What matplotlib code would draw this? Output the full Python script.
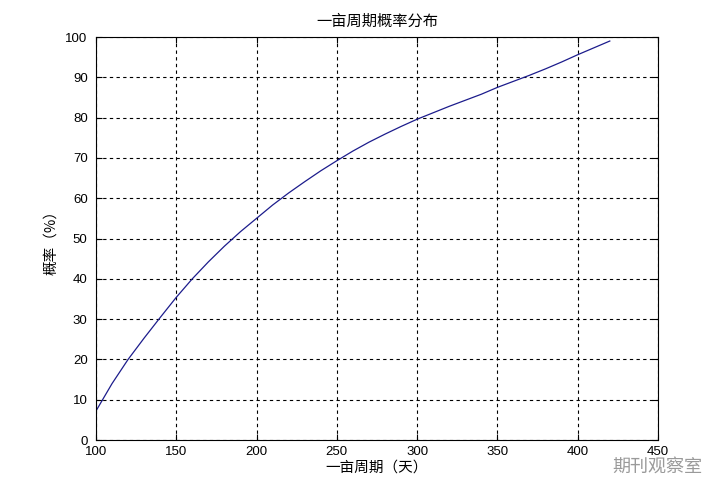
import matplotlib.pyplot as plt
import numpy as np

# curve (days -> probability %)
period_days = [100, 110, 120, 130, 140, 150, 160, 170, 180, 190, 200,
               210, 220, 230, 240, 250, 260, 270, 280, 290, 300,
               310, 320, 330, 340, 350, 360, 370, 380, 390, 400, 410, 420]
probability = [7.2, 14.0, 20.0, 25.3, 30.4, 35.4, 40.0, 44.2, 48.1, 51.7, 55.0,
               58.3, 61.3, 64.1, 66.8, 69.3, 71.7, 73.9, 75.9, 77.8, 79.6,
               81.2, 82.8, 84.3, 85.8, 87.5, 89.0, 90.5, 92.1, 93.8, 95.6, 97.3, 99.0]

x_ticks = [100, 150, 200, 250, 300, 350, 400, 450]
y_ticks = [0, 10, 20, 30, 40, 50, 60, 70, 80, 90, 100]

title_text = '一亩周期概率分布'
x_label = '一亩周期（天）'
y_label = '概率（%）'
watermark = '期刊观察室'

plt.rcParams['font.family'] = ['Liberation Sans', 'Noto Sans CJK SC', 'DejaVu Sans']
cjk = ['Noto Sans CJK SC', 'DejaVu Sans']

fig = plt.figure(figsize=(7.26, 4.94), dpi=100)
ax = fig.add_axes([0.1322, 0.1093, 0.7741, 0.8158])

ax.plot(period_days, probability, color='#1c1c8c', linewidth=0.9)

ax.set_xlim(100, 450)
ax.set_ylim(0, 100)
ax.set_xticks(x_ticks)
ax.set_yticks(y_ticks)
ax.tick_params(direction='in', top=True, right=True, length=4, width=0.8,
               labelsize=9.5, colors='black')
ax.tick_params(axis='x', pad=4)
ax.tick_params(axis='y', pad=6)
ax.grid(True, color='black', linestyle=(0, (3, 3)), linewidth=0.8)
for s in ax.spines.values():
    s.set_linewidth(0.8)

ax.set_title(title_text, family=cjk, fontsize=11, pad=8)
ax.set_xlabel(x_label, family=cjk, fontsize=10.5, labelpad=2)
ax.set_ylabel(y_label, family=cjk, fontsize=10.5, labelpad=5)

# watermark in the bottom-right corner
fig.text(0.905, 0.055, watermark, family=cjk, fontsize=13, color='#9a9a9a',
         ha='center', va='center')

fig.savefig('out.png', dpi=100)
